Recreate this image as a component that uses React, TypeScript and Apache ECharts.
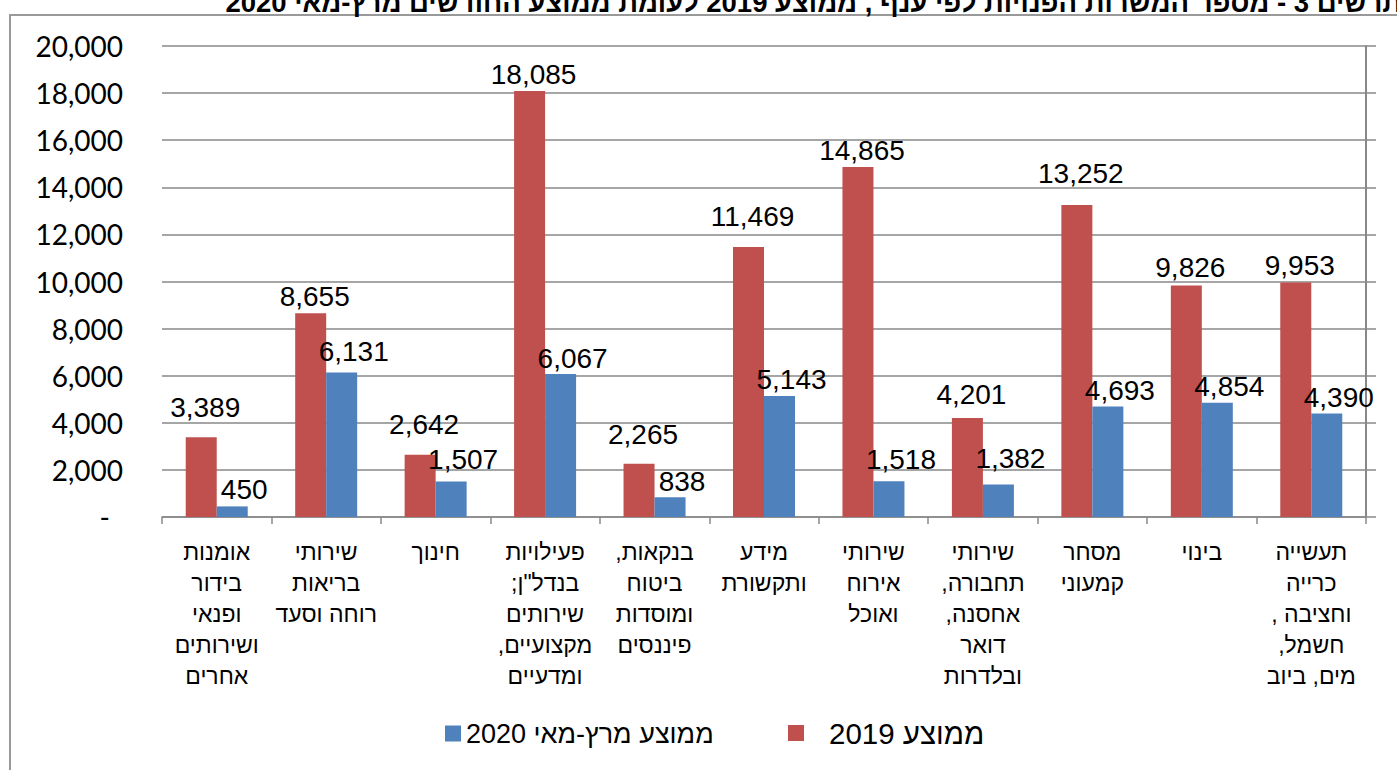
import React, { useEffect, useRef } from "react";
import * as echarts from "echarts";

const RLM = "\u200F";

const categories = [
  "אומנות\nבידור\nופנאי\nושירותים\nאחרים",
  "שירותי\nבריאות\nרוחה וסעד",
  "חינוך",
  "פעילויות\nבנדל\"ן;" + RLM + "\nשירותים\nמקצועיים," + RLM + "\nומדעיים",
  "בנקאות," + RLM + "\nביטוח\nומוסדות\nפיננסים",
  "מידע\nותקשורת",
  "שירותי\nאירוח\nואוכל",
  "שירותי\nתחבורה," + RLM + "\nאחסנה," + RLM + "\nדואר\nובלדרות",
  "מסחר\nקמעוני",
  "בינוי",
  "תעשייה\nכרייה\nוחציבה ," + RLM + "\nחשמל," + RLM + "\nמים, ביוב",
];

const seriesNames = ["ממוצע 2019", "ממוצע מרץ-מאי 2020"];
const avg2019 = [3389, 8655, 2642, 18085, 2265, 11469, 14865, 4201, 13252, 9826, 9953];
const avg2020 = [450, 6131, 1507, 6067, 838, 5143, 1518, 1382, 4693, 4854, 4390];

const yMin = 0;
const yMax = 20000;
const yInterval = 2000;

const titleText =
  "תרשים 3 - מספר המשרות הפנויות לפי ענף , ממוצע 2019 לעומת ממוצע החודשים מרץ-מאי 2020";

// extra upward shift of some data labels (style only)
const lift2019 = [14, 1, 14, 1, 13, 14, 0, 8, 15, 2, 1];
const lift2020 = [1, 5, 6, 0, 0, 0, 6, 10, 0, 0, 0];

const fmt = (v: number) => v.toLocaleString("en-US");

export default function App() {
  const ref = useRef<HTMLDivElement>(null);
  useEffect(() => {
    if (!ref.current) return;
    const chart = echarts.init(ref.current, null, { renderer: "svg" });
    const labelBase = {
      show: true,
      position: "top",
      distance: 2,
      fontSize: 28,
      fontFamily: "Liberation Sans",
      color: "#000",
      formatter: (p: any) => fmt(p.value),
    };
    const mk = (vals: number[], lifts: number[], dx: number) =>
      vals.map((v, i) => ({ value: v, label: { offset: [dx, -lifts[i]] } }));
    chart.setOption({
      animation: false,
      backgroundColor: "#fff",
      grid: { left: 162, right: 31, top: 46, bottom: 253, containLabel: false },
      xAxis: {
        type: "category",
        data: categories,
        axisLine: { show: true, lineStyle: { color: "#888", width: 1.5 } },
        axisTick: { show: true, length: 7, lineStyle: { color: "#888", width: 1.5 } },
        axisLabel: {
          interval: 0,
          fontSize: 23,
          lineHeight: 31,
          fontFamily: "Liberation Sans",
          color: "#000",
          margin: 19,
          align: "center",
        },
      },
      yAxis: [
        {
          type: "value",
          min: yMin,
          max: yMax,
          interval: yInterval,
          position: "left",
          axisLine: { show: false },
          axisTick: { show: false },
          splitLine: { show: true, lineStyle: { color: "#888", width: 1.5 } },
          axisLabel: {
            margin: 39,
            fontSize: 28,
            fontFamily: "Lato",
            color: "#000",
            formatter: (v: number) => (v === 0 ? "{z|-}" : fmt(v)),
            rich: {
              z: { fontSize: 28, fontFamily: "Lato", color: "#000", padding: [0, 13, 0, 0] },
            },
          },
        },
        {
          type: "value",
          min: yMin,
          max: yMax,
          interval: yInterval,
          position: "right",
          axisLine: { show: true, lineStyle: { color: "#888", width: 2 } },
          axisTick: { show: true, inside: false, length: 10, lineStyle: { color: "#888", width: 1.5 } },
          axisLabel: { show: false },
          splitLine: { show: false },
        },
      ],
      legend: [
        {
          data: [seriesNames[1]],
          left: 440,
          top: 715,
          icon: "rect",
          itemWidth: 16,
          itemHeight: 16,
          selectedMode: false,
          textStyle: { fontSize: 27, fontFamily: "Liberation Sans", color: "#000" },
        },
        {
          data: [seriesNames[0]],
          left: 783,
          top: 713,
          icon: "rect",
          itemWidth: 16,
          itemHeight: 16,
          selectedMode: false,
          textStyle: {
            fontSize: 29.5,
            fontFamily: "Liberation Sans",
            color: "#000",
            padding: [0, 0, 0, 20],
          },
        },
      ],
      series: [
        {
          name: seriesNames[0],
          type: "bar",
          data: mk(avg2019, lift2019, 4),
          barWidth: 31,
          barGap: "0%",
          itemStyle: { color: "#C0504D" },
          label: labelBase,
        },
        {
          name: seriesNames[1],
          type: "bar",
          data: mk(avg2020, lift2020, 12),
          barWidth: 31,
          barGap: "0%",
          itemStyle: { color: "#4F81BD" },
          label: labelBase,
        },
      ],
      graphic: [
        {
          type: "rect",
          shape: { x: 10, y: 15, width: 1420, height: 800 },
          style: { fill: "none", stroke: "#999", lineWidth: 2 },
          silent: true,
        },
        {
          type: "text",
          x: 1402,
          y: 16,
          style: {
            text: titleText,
            fontSize: 27.5,
            fontWeight: "bold",
            fontFamily: "Liberation Sans",
            fill: "#000",
            align: "right",
            verticalAlign: "bottom",
          },
          silent: true,
        },
      ],
    });
    return () => chart.dispose();
  }, []);
  return (
    <div
      ref={ref}
      style={{ position: "absolute", left: 0, top: 0, width: 1397, height: 770 }}
    />
  );
}
